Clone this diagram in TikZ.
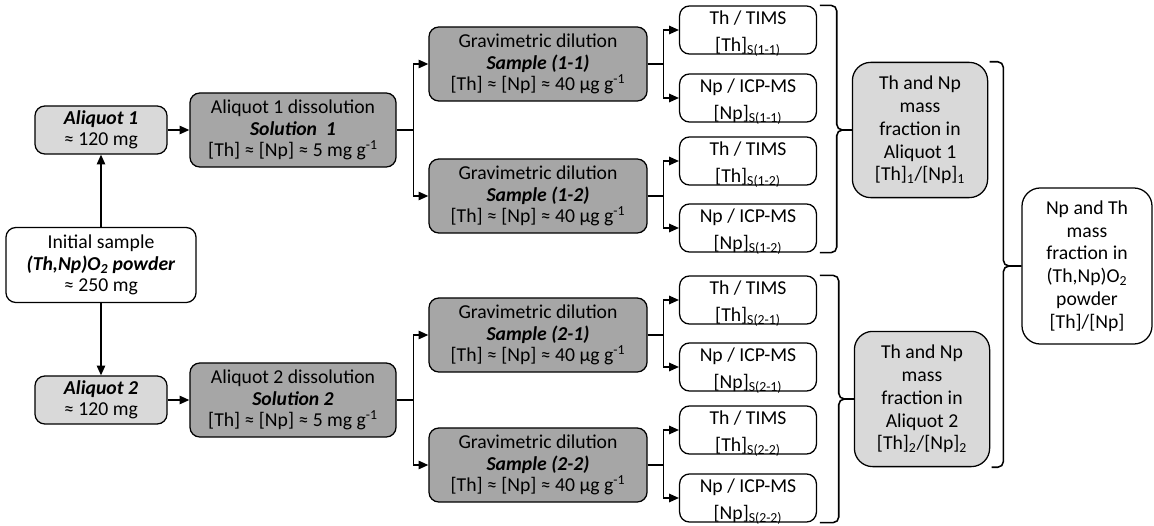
\documentclass[tikz,border=0pt]{standalone}
\usepackage{fontspec}
\setmainfont{Carlito}
\usetikzlibrary{arrows.meta, calc}
\definecolor{lightbox}{RGB}{217,217,217}
\definecolor{darkbox}{RGB}{166,166,166}

\begin{document}
\begin{tikzpicture}[
    x=0.025cm, y=-0.025cm,
    box/.style={
        draw, line width=0.9pt, rounded corners=7pt, align=center,
        inner sep=1pt, font=\fontsize{14}{15.3}\selectfont
    },
    aliq/.style={box, fill=lightbox, minimum width=3.3cm, minimum height=1.2cm},
    diss/.style={box, fill=darkbox, minimum width=5.15cm, minimum height=1.85cm},
    meas/.style={box, fill=white, inner sep=0pt, text height=32pt, text depth=2pt,
        minimum width=3.42cm, minimum height=1.2cm},
    frac/.style={box, fill=lightbox, rounded corners=13pt, minimum width=3.38cm,
        minimum height=3.38cm, font=\fontsize{14}{16.2}\selectfont},
    arr/.style={-{Triangle[length=7pt,width=6pt]}, line width=1.1pt},
    brk/.style={line width=1.1pt, rounded corners=4pt}
]
\useasboundingbox (0,0) rectangle (1154,525);

% Initial sample and the two aliquots
\node[box, minimum width=4.75cm, minimum height=1.875cm] (init) at (101,265)
    {Initial sample\\\textbf{\textit{(Th,Np)O\textsubscript{2} powder}}\\≈ 250 mg};
\node[aliq] (al1) at (101,130) {\textbf{\textit{Aliquot 1}}\\≈ 120 mg};
\node[aliq] (al2) at (101,400) {\textbf{\textit{Aliquot 2}}\\≈ 120 mg};
\draw[arr] (init.north) -- (al1.south);
\draw[arr] (init.south) -- (al2.north);

% Dissolutions
\node[diss] (dis1) at (293,130)
    {Aliquot 1 dissolution\\\textbf{\textit{Solution\ \ 1}}\\{[Th]} ≈ [Np] ≈ 5 mg g\textsuperscript{-1}};
\node[diss] (dis2) at (293,400)
    {Aliquot 2 dissolution\\\textbf{\textit{Solution 2}}\\{[Th]} ≈ [Np] ≈ 5 mg g\textsuperscript{-1}};
\draw[arr] (al1) -- (dis1);
\draw[arr] (al2) -- (dis2);

% Gravimetric dilutions
\foreach \a/\b/\yy in {1/1/64, 1/2/196, 2/1/335, 2/2/465} {
    \node[diss, minimum width=5.45cm] (g\a\b) at (538,\yy)
        {Gravimetric dilution\\\textbf{\textit{Sample (\a-\b)}}\\{[Th]} ≈ [Np] ≈ 40 µg g\textsuperscript{-1}};
    \draw[arr] (dis\a.east) -- ++(17,0) |- (g\a\b.west);
}

% Measurements
\foreach \a/\b/\ya/\yb in {1/1/30/98, 1/2/161/228, 2/1/300/367, 2/2/430/498} {
    \node[meas] (th\a\b) at (748,\ya) {Th / TIMS\\[3.7pt]{[Th]}\textsubscript{S(\a-\b)}};
    \node[meas] (np\a\b) at (748,\yb) {Np / ICP-MS\\[3.7pt]{[Np]}\textsubscript{S(\a-\b)}};
    \draw[arr] (g\a\b.east) -- ++(16,0) |- (th\a\b.west);
    \draw[arr] (g\a\b.east) -- ++(16,0) |- (np\a\b.west);
}

% Mass fractions per aliquot
\node[frac] (frac1) at (920,130)
    {Th and Np\\mass\\fraction in\\Aliquot 1\\{[Th]}\textsubscript{1}/[Np]\textsubscript{1}};
\node[frac] (frac2) at (922,399)
    {Th and Np\\mass\\fraction in\\Aliquot 2\\{[Th]}\textsubscript{2}/[Np]\textsubscript{2}};

% Final result
\node[box, fill=white, rounded corners=13pt, minimum width=3.25cm, minimum height=3.9cm,
    font=\fontsize{14}{16.2}\selectfont] (final) at (1087,266)
    {Np and Th\\mass\\fraction in\\(Th,Np)O\textsubscript{2}\\powder\\{[Th]}/[Np]};

% Brackets
\draw[brk] ([xshift=2pt]th11.north east) -| ($(frac1.west)+(-15,0)$) -- (frac1.west);
\draw[brk] ([xshift=2pt]np12.south east) -| ($(frac1.west)+(-15,0)$) -- (frac1.west);
\draw[brk] ([xshift=2pt]th21.north east) -| ($(frac2.west)+(-15,0)$) -- (frac2.west);
\draw[brk] ([xshift=2pt]np22.south east) -| ($(frac2.west)+(-15,0)$) -- (frac2.west);
\draw[brk] ([xshift=1pt]frac1.north east) -| ($(final.west)+(-18,0)$) -- (final.west);
\draw[brk] ([xshift=1pt]frac2.south east) -| ($(final.west)+(-18,0)$) -- (final.west);

\end{tikzpicture}
\end{document}
